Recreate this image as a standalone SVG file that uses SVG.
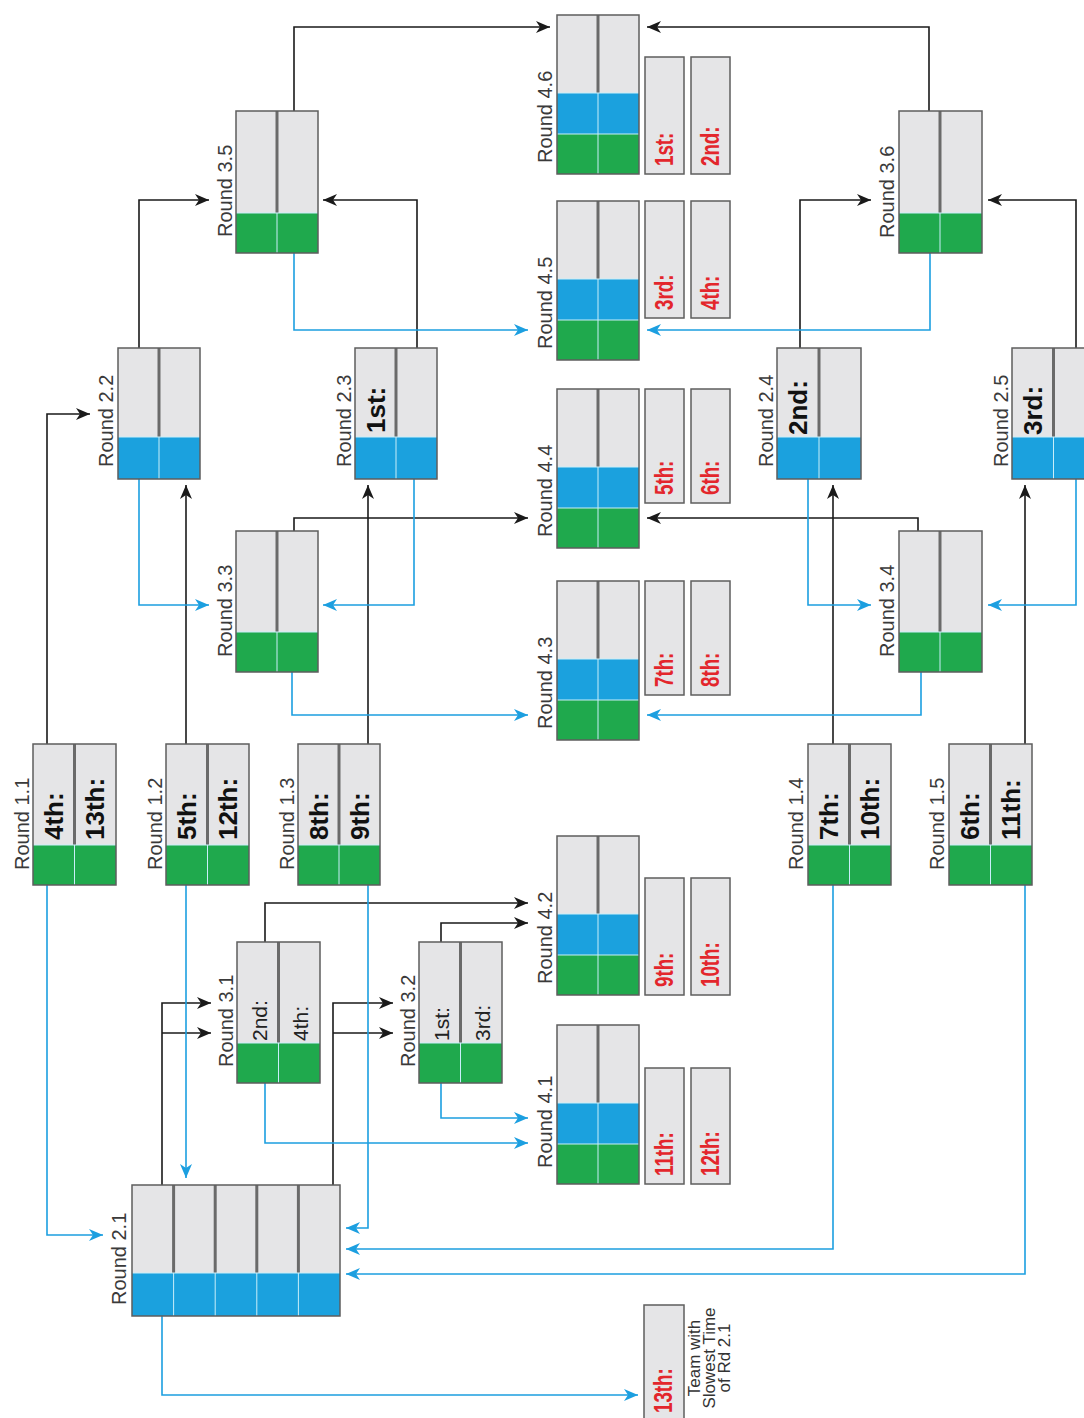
<svg xmlns="http://www.w3.org/2000/svg" width="1084" height="1418" viewBox="0 0 1084 1418">
<defs>
<style>
.bg{fill:#e5e5e7}
.gr{fill:#1fa94d}
.bl{fill:#1ba1de}
.dv{stroke:#6a6a6a;stroke-width:3}
.lt{stroke:#c9eef9;stroke-width:1}
.ol{fill:none;stroke:#5e5e5e;stroke-width:1.5}
.res{fill:#e5e5e7;stroke:#5e5e5e;stroke-width:1.5}
.lbl{font-family:"Liberation Sans",Arial,sans-serif;font-size:20px;fill:#3a3a3a}
.bt{font-family:"Liberation Sans",Arial,sans-serif;font-size:26px;font-weight:bold;fill:#111}
.nt{font-family:"Liberation Sans",Arial,sans-serif;font-size:21px;fill:#222}
.rt{font-family:"Liberation Sans",Arial,sans-serif;font-size:25px;font-weight:bold;fill:#e3262c}
.ft{font-family:"Liberation Sans",Arial,sans-serif;font-size:17px;fill:#333;text-anchor:middle}
.k{fill:none;stroke:#1a1a1a;stroke-width:1.6;marker-end:url(#ak)}
.kn{fill:none;stroke:#1a1a1a;stroke-width:1.6}
.c{fill:none;stroke:#1c9fe0;stroke-width:1.6;marker-end:url(#ab)}
</style>
<marker id="ak" markerUnits="userSpaceOnUse" markerWidth="15" markerHeight="12" refX="14" refY="6" orient="auto" viewBox="0 0 15 12"><path d="M0,0 L14,6 L0,12 L4,6 Z" fill="#1a1a1a"/></marker>
<marker id="ab" markerUnits="userSpaceOnUse" markerWidth="15" markerHeight="12" refX="14" refY="6" orient="auto" viewBox="0 0 15 12"><path d="M0,0 L14,6 L0,12 L4,6 Z" fill="#1c9fe0"/></marker>
</defs>
<rect x="0" y="0" width="1084" height="1418" fill="#ffffff"/>

<g id="connectors">
<!-- black -->
<path class="k" d="M294,111 V27 H550"/>
<path class="k" d="M929,111 V27 H647"/>
<path class="k" d="M139,348 V200 H209"/>
<path class="k" d="M417,348 V200 H323"/>
<path class="k" d="M800,348 V200 H871"/>
<path class="k" d="M1076,348 V200 H988"/>
<path class="k" d="M47,744 V414 H90"/>
<path class="k" d="M186,744 V485"/>
<path class="k" d="M368,744 V485"/>
<path class="k" d="M833,744 V485"/>
<path class="k" d="M1025,744 V485"/>
<path class="k" d="M294,531 V518 H528"/>
<path class="k" d="M918,531 V518 H647"/>
<path class="k" d="M265,942 V903 H528"/>
<path class="k" d="M441,942 V923 H528"/>
<path class="k" d="M162,1185 V1003 H211"/>
<path class="k" d="M162,1033 H211"/>
<path class="k" d="M333,1185 V1003 H393"/>
<path class="k" d="M333,1033 H393"/>
<!-- blue -->
<path class="c" d="M294,253 V330 H528"/>
<path class="c" d="M930,253 V330 H647"/>
<path class="c" d="M139,479 V605 H209"/>
<path class="c" d="M414,479 V605 H323"/>
<path class="c" d="M808,479 V605 H871"/>
<path class="c" d="M1076,479 V605 H988"/>
<path class="c" d="M292,672 V715 H528"/>
<path class="c" d="M921,672 V715 H647"/>
<path class="c" d="M47,885 V1235 H103"/>
<path class="c" d="M186,885 V1178"/>
<path class="c" d="M368,885 V1228 H346"/>
<path class="c" d="M833,885 V1249 H346"/>
<path class="c" d="M1025,885 V1274 H346"/>
<path class="c" d="M265,1083 V1143 H528"/>
<path class="c" d="M441,1083 V1118 H528"/>
<path class="c" d="M162,1316 V1395 H638"/>
</g>

<!-- Round 1.x -->
<g id="round-1-1">
<rect class="bg" x="33" y="744" width="83" height="141"/>
<rect class="gr" x="33" y="845" width="83" height="40"/>
<line class="dv" x1="74.5" y1="744" x2="74.5" y2="845"/>
<line class="lt" x1="74.5" y1="845" x2="74.5" y2="885"/>
<line class="lt" x1="33" y1="845" x2="116" y2="845"/>
<rect class="ol" x="33" y="744" width="83" height="141"/>
<text class="lbl" transform="translate(29,870) rotate(-90)">Round 1.1</text>
<text class="bt" transform="translate(63,840) rotate(-90)">4th:</text>
<text class="bt" transform="translate(104,840) rotate(-90)">13th:</text>
</g>
<g id="round-1-2">
<rect class="bg" x="166" y="744" width="83" height="141"/>
<rect class="gr" x="166" y="845" width="83" height="40"/>
<line class="dv" x1="207.5" y1="744" x2="207.5" y2="845"/>
<line class="lt" x1="207.5" y1="845" x2="207.5" y2="885"/>
<line class="lt" x1="166" y1="845" x2="249" y2="845"/>
<rect class="ol" x="166" y="744" width="83" height="141"/>
<text class="lbl" transform="translate(162,870) rotate(-90)">Round 1.2</text>
<text class="bt" transform="translate(196,840) rotate(-90)">5th:</text>
<text class="bt" transform="translate(237,840) rotate(-90)">12th:</text>
</g>
<g id="round-1-3">
<rect class="bg" x="298" y="744" width="82" height="141"/>
<rect class="gr" x="298" y="845" width="82" height="40"/>
<line class="dv" x1="339" y1="744" x2="339" y2="845"/>
<line class="lt" x1="339" y1="845" x2="339" y2="885"/>
<line class="lt" x1="298" y1="845" x2="380" y2="845"/>
<rect class="ol" x="298" y="744" width="82" height="141"/>
<text class="lbl" transform="translate(294,870) rotate(-90)">Round 1.3</text>
<text class="bt" transform="translate(328,840) rotate(-90)">8th:</text>
<text class="bt" transform="translate(369,840) rotate(-90)">9th:</text>
</g>
<g id="round-1-4">
<rect class="bg" x="808" y="744" width="83" height="141"/>
<rect class="gr" x="808" y="845" width="83" height="40"/>
<line class="dv" x1="849.5" y1="744" x2="849.5" y2="845"/>
<line class="lt" x1="849.5" y1="845" x2="849.5" y2="885"/>
<line class="lt" x1="808" y1="845" x2="891" y2="845"/>
<rect class="ol" x="808" y="744" width="83" height="141"/>
<text class="lbl" transform="translate(803,870) rotate(-90)">Round 1.4</text>
<text class="bt" transform="translate(838,840) rotate(-90)">7th:</text>
<text class="bt" transform="translate(879,840) rotate(-90)">10th:</text>
</g>
<g id="round-1-5">
<rect class="bg" x="949" y="744" width="83" height="141"/>
<rect class="gr" x="949" y="845" width="83" height="40"/>
<line class="dv" x1="990.5" y1="744" x2="990.5" y2="845"/>
<line class="lt" x1="990.5" y1="845" x2="990.5" y2="885"/>
<line class="lt" x1="949" y1="845" x2="1032" y2="845"/>
<rect class="ol" x="949" y="744" width="83" height="141"/>
<text class="lbl" transform="translate(944,870) rotate(-90)">Round 1.5</text>
<text class="bt" transform="translate(979,840) rotate(-90)">6th:</text>
<text class="bt" transform="translate(1020,840) rotate(-90)">11th:</text>
</g>

<!-- Round 2.x -->
<g id="round-2-2">
<rect class="bg" x="118" y="348" width="82" height="131"/>
<rect class="bl" x="118" y="437" width="82" height="42"/>
<line class="dv" x1="159" y1="348" x2="159" y2="437"/>
<line class="lt" x1="159" y1="437" x2="159" y2="479"/>
<line class="lt" x1="118" y1="437" x2="200" y2="437"/>
<rect class="ol" x="118" y="348" width="82" height="131"/>
<text class="lbl" transform="translate(113,467) rotate(-90)">Round 2.2</text>
</g>
<g id="round-2-3">
<rect class="bg" x="355" y="348" width="82" height="131"/>
<rect class="bl" x="355" y="437" width="82" height="42"/>
<line class="dv" x1="396" y1="348" x2="396" y2="437"/>
<line class="lt" x1="396" y1="437" x2="396" y2="479"/>
<line class="lt" x1="355" y1="437" x2="437" y2="437"/>
<rect class="ol" x="355" y="348" width="82" height="131"/>
<text class="lbl" transform="translate(351,467) rotate(-90)">Round 2.3</text>
<text class="bt" transform="translate(385,433) rotate(-90)">1st:</text>
</g>
<g id="round-2-4">
<rect class="bg" x="777" y="348" width="84" height="131"/>
<rect class="bl" x="777" y="437" width="84" height="42"/>
<line class="dv" x1="819" y1="348" x2="819" y2="437"/>
<line class="lt" x1="819" y1="437" x2="819" y2="479"/>
<line class="lt" x1="777" y1="437" x2="861" y2="437"/>
<rect class="ol" x="777" y="348" width="84" height="131"/>
<text class="lbl" transform="translate(773,467) rotate(-90)">Round 2.4</text>
<text class="bt" transform="translate(807,435) rotate(-90)">2nd:</text>
</g>
<g id="round-2-5">
<rect class="bg" x="1012" y="348" width="84" height="131"/>
<rect class="bl" x="1012" y="437" width="84" height="42"/>
<line class="dv" x1="1053.5" y1="348" x2="1053.5" y2="437"/>
<line class="lt" x1="1053.5" y1="437" x2="1053.5" y2="479"/>
<line class="lt" x1="1012" y1="437" x2="1096" y2="437"/>
<rect class="ol" x="1012" y="348" width="84" height="131"/>
<text class="lbl" transform="translate(1008,467) rotate(-90)">Round 2.5</text>
<text class="bt" transform="translate(1042,435) rotate(-90)">3rd:</text>
</g>
<g id="round-2-1">
<rect class="bg" x="132" y="1185" width="208" height="131"/>
<rect class="bl" x="132" y="1273" width="208" height="43"/>
<line class="dv" x1="173.6" y1="1185" x2="173.6" y2="1273"/>
<line class="dv" x1="215.2" y1="1185" x2="215.2" y2="1273"/>
<line class="dv" x1="256.8" y1="1185" x2="256.8" y2="1273"/>
<line class="dv" x1="298.4" y1="1185" x2="298.4" y2="1273"/>
<line class="lt" x1="173.6" y1="1273" x2="173.6" y2="1316"/>
<line class="lt" x1="215.2" y1="1273" x2="215.2" y2="1316"/>
<line class="lt" x1="256.8" y1="1273" x2="256.8" y2="1316"/>
<line class="lt" x1="298.4" y1="1273" x2="298.4" y2="1316"/>
<line class="lt" x1="132" y1="1273" x2="340" y2="1273"/>
<rect class="ol" x="132" y="1185" width="208" height="131"/>
<text class="lbl" transform="translate(126,1305) rotate(-90)">Round 2.1</text>
</g>

<!-- Round 3.x -->
<g id="round-3-5">
<rect class="bg" x="236" y="111" width="82" height="142"/>
<rect class="gr" x="236" y="213" width="82" height="40"/>
<line class="dv" x1="277" y1="111" x2="277" y2="213"/>
<line class="lt" x1="277" y1="213" x2="277" y2="253"/>
<line class="lt" x1="236" y1="213" x2="318" y2="213"/>
<rect class="ol" x="236" y="111" width="82" height="142"/>
<text class="lbl" transform="translate(232,237) rotate(-90)">Round 3.5</text>
</g>
<g id="round-3-6">
<rect class="bg" x="899" y="111" width="83" height="142"/>
<rect class="gr" x="899" y="213" width="83" height="40"/>
<line class="dv" x1="940" y1="111" x2="940" y2="213"/>
<line class="lt" x1="940" y1="213" x2="940" y2="253"/>
<line class="lt" x1="899" y1="213" x2="982" y2="213"/>
<rect class="ol" x="899" y="111" width="83" height="142"/>
<text class="lbl" transform="translate(894,238) rotate(-90)">Round 3.6</text>
</g>
<g id="round-3-3">
<rect class="bg" x="236" y="531" width="82" height="141"/>
<rect class="gr" x="236" y="632" width="82" height="40"/>
<line class="dv" x1="277" y1="531" x2="277" y2="632"/>
<line class="lt" x1="277" y1="632" x2="277" y2="672"/>
<line class="lt" x1="236" y1="632" x2="318" y2="632"/>
<rect class="ol" x="236" y="531" width="82" height="141"/>
<text class="lbl" transform="translate(232,657) rotate(-90)">Round 3.3</text>
</g>
<g id="round-3-4">
<rect class="bg" x="899" y="531" width="83" height="141"/>
<rect class="gr" x="899" y="632" width="83" height="40"/>
<line class="dv" x1="940" y1="531" x2="940" y2="632"/>
<line class="lt" x1="940" y1="632" x2="940" y2="672"/>
<line class="lt" x1="899" y1="632" x2="982" y2="632"/>
<rect class="ol" x="899" y="531" width="83" height="141"/>
<text class="lbl" transform="translate(894,657) rotate(-90)">Round 3.4</text>
</g>
<g id="round-3-1">
<rect class="bg" x="237" y="942" width="83" height="141"/>
<rect class="gr" x="237" y="1043" width="83" height="40"/>
<line class="dv" x1="278.5" y1="942" x2="278.5" y2="1043"/>
<line class="lt" x1="278.5" y1="1043" x2="278.5" y2="1083"/>
<line class="lt" x1="237" y1="1043" x2="320" y2="1043"/>
<rect class="ol" x="237" y="942" width="83" height="141"/>
<text class="lbl" transform="translate(233,1067) rotate(-90)">Round 3.1</text>
<text class="nt" transform="translate(267,1041) rotate(-90)">2nd:</text>
<text class="nt" transform="translate(308,1041) rotate(-90)">4th:</text>
</g>
<g id="round-3-2">
<rect class="bg" x="419" y="942" width="83" height="141"/>
<rect class="gr" x="419" y="1043" width="83" height="40"/>
<line class="dv" x1="460.5" y1="942" x2="460.5" y2="1043"/>
<line class="lt" x1="460.5" y1="1043" x2="460.5" y2="1083"/>
<line class="lt" x1="419" y1="1043" x2="502" y2="1043"/>
<rect class="ol" x="419" y="942" width="83" height="141"/>
<text class="lbl" transform="translate(415,1067) rotate(-90)">Round 3.2</text>
<text class="nt" transform="translate(449,1041) rotate(-90)">1st:</text>
<text class="nt" transform="translate(490,1041) rotate(-90)">3rd:</text>
</g>

<!-- Round 4.x -->
<g id="round-4-6">
<rect class="bg" x="557" y="15" width="82" height="159"/>
<rect class="bl" x="557" y="93" width="82" height="41"/>
<rect class="gr" x="557" y="134" width="82" height="40"/>
<line class="dv" x1="598" y1="15" x2="598" y2="93"/>
<line class="lt" x1="598" y1="93" x2="598" y2="174"/>
<line class="lt" x1="557" y1="93" x2="639" y2="93"/>
<line class="lt" x1="557" y1="134" x2="639" y2="134"/>
<rect class="ol" x="557" y="15" width="82" height="159"/>
<text class="lbl" transform="translate(552,163) rotate(-90)">Round 4.6</text>
<rect class="res" x="645" y="57" width="39" height="117"/>
<rect class="res" x="691" y="57" width="39" height="117"/>
<text class="rt" transform="translate(673,166) rotate(-90) scale(0.75,1)">1st:</text>
<text class="rt" transform="translate(719,166) rotate(-90) scale(0.75,1)">2nd:</text>
</g>
<g id="round-4-5">
<rect class="bg" x="557" y="201" width="82" height="159"/>
<rect class="bl" x="557" y="279" width="82" height="41"/>
<rect class="gr" x="557" y="320" width="82" height="40"/>
<line class="dv" x1="598" y1="201" x2="598" y2="279"/>
<line class="lt" x1="598" y1="279" x2="598" y2="360"/>
<line class="lt" x1="557" y1="279" x2="639" y2="279"/>
<line class="lt" x1="557" y1="320" x2="639" y2="320"/>
<rect class="ol" x="557" y="201" width="82" height="159"/>
<text class="lbl" transform="translate(552,349) rotate(-90)">Round 4.5</text>
<rect class="res" x="645" y="201" width="39" height="117"/>
<rect class="res" x="691" y="201" width="39" height="117"/>
<text class="rt" transform="translate(673,310) rotate(-90) scale(0.75,1)">3rd:</text>
<text class="rt" transform="translate(719,310) rotate(-90) scale(0.75,1)">4th:</text>
</g>
<g id="round-4-4">
<rect class="bg" x="557" y="389" width="82" height="159"/>
<rect class="bl" x="557" y="467" width="82" height="41"/>
<rect class="gr" x="557" y="508" width="82" height="40"/>
<line class="dv" x1="598" y1="389" x2="598" y2="467"/>
<line class="lt" x1="598" y1="467" x2="598" y2="548"/>
<line class="lt" x1="557" y1="467" x2="639" y2="467"/>
<line class="lt" x1="557" y1="508" x2="639" y2="508"/>
<rect class="ol" x="557" y="389" width="82" height="159"/>
<text class="lbl" transform="translate(552,537) rotate(-90)">Round 4.4</text>
<rect class="res" x="645" y="389" width="39" height="114"/>
<rect class="res" x="691" y="389" width="39" height="114"/>
<text class="rt" transform="translate(673,495) rotate(-90) scale(0.75,1)">5th:</text>
<text class="rt" transform="translate(719,495) rotate(-90) scale(0.75,1)">6th:</text>
</g>
<g id="round-4-3">
<rect class="bg" x="557" y="581" width="82" height="159"/>
<rect class="bl" x="557" y="659" width="82" height="41"/>
<rect class="gr" x="557" y="700" width="82" height="40"/>
<line class="dv" x1="598" y1="581" x2="598" y2="659"/>
<line class="lt" x1="598" y1="659" x2="598" y2="740"/>
<line class="lt" x1="557" y1="659" x2="639" y2="659"/>
<line class="lt" x1="557" y1="700" x2="639" y2="700"/>
<rect class="ol" x="557" y="581" width="82" height="159"/>
<text class="lbl" transform="translate(552,729) rotate(-90)">Round 4.3</text>
<rect class="res" x="645" y="581" width="39" height="114"/>
<rect class="res" x="691" y="581" width="39" height="114"/>
<text class="rt" transform="translate(673,687) rotate(-90) scale(0.75,1)">7th:</text>
<text class="rt" transform="translate(719,687) rotate(-90) scale(0.75,1)">8th:</text>
</g>
<g id="round-4-2">
<rect class="bg" x="557" y="836" width="82" height="159"/>
<rect class="bl" x="557" y="914" width="82" height="41"/>
<rect class="gr" x="557" y="955" width="82" height="40"/>
<line class="dv" x1="598" y1="836" x2="598" y2="914"/>
<line class="lt" x1="598" y1="914" x2="598" y2="995"/>
<line class="lt" x1="557" y1="914" x2="639" y2="914"/>
<line class="lt" x1="557" y1="955" x2="639" y2="955"/>
<rect class="ol" x="557" y="836" width="82" height="159"/>
<text class="lbl" transform="translate(552,984) rotate(-90)">Round 4.2</text>
<rect class="res" x="645" y="878" width="39" height="117"/>
<rect class="res" x="691" y="878" width="39" height="117"/>
<text class="rt" transform="translate(673,987) rotate(-90) scale(0.75,1)">9th:</text>
<text class="rt" transform="translate(719,987) rotate(-90) scale(0.75,1)">10th:</text>
</g>
<g id="round-4-1">
<rect class="bg" x="557" y="1025" width="82" height="159"/>
<rect class="bl" x="557" y="1103" width="82" height="41"/>
<rect class="gr" x="557" y="1144" width="82" height="40"/>
<line class="dv" x1="598" y1="1025" x2="598" y2="1103"/>
<line class="lt" x1="598" y1="1103" x2="598" y2="1184"/>
<line class="lt" x1="557" y1="1103" x2="639" y2="1103"/>
<line class="lt" x1="557" y1="1144" x2="639" y2="1144"/>
<rect class="ol" x="557" y="1025" width="82" height="159"/>
<text class="lbl" transform="translate(552,1168) rotate(-90)">Round 4.1</text>
<rect class="res" x="645" y="1068" width="39" height="116"/>
<rect class="res" x="691" y="1068" width="39" height="116"/>
<text class="rt" transform="translate(673,1176) rotate(-90) scale(0.75,1)">11th:</text>
<text class="rt" transform="translate(719,1176) rotate(-90) scale(0.75,1)">12th:</text>
</g>

<g id="slowest-team">
<rect class="res" x="644" y="1305" width="40" height="125"/>
<text class="rt" transform="translate(672,1413) rotate(-90) scale(0.75,1)">13th:</text>
<text class="ft" transform="translate(700,1358) rotate(-90)">Team with</text>
<text class="ft" transform="translate(715,1358) rotate(-90)">Slowest Time</text>
<text class="ft" transform="translate(730,1358) rotate(-90)">of Rd 2.1</text>
</g>
</svg>
